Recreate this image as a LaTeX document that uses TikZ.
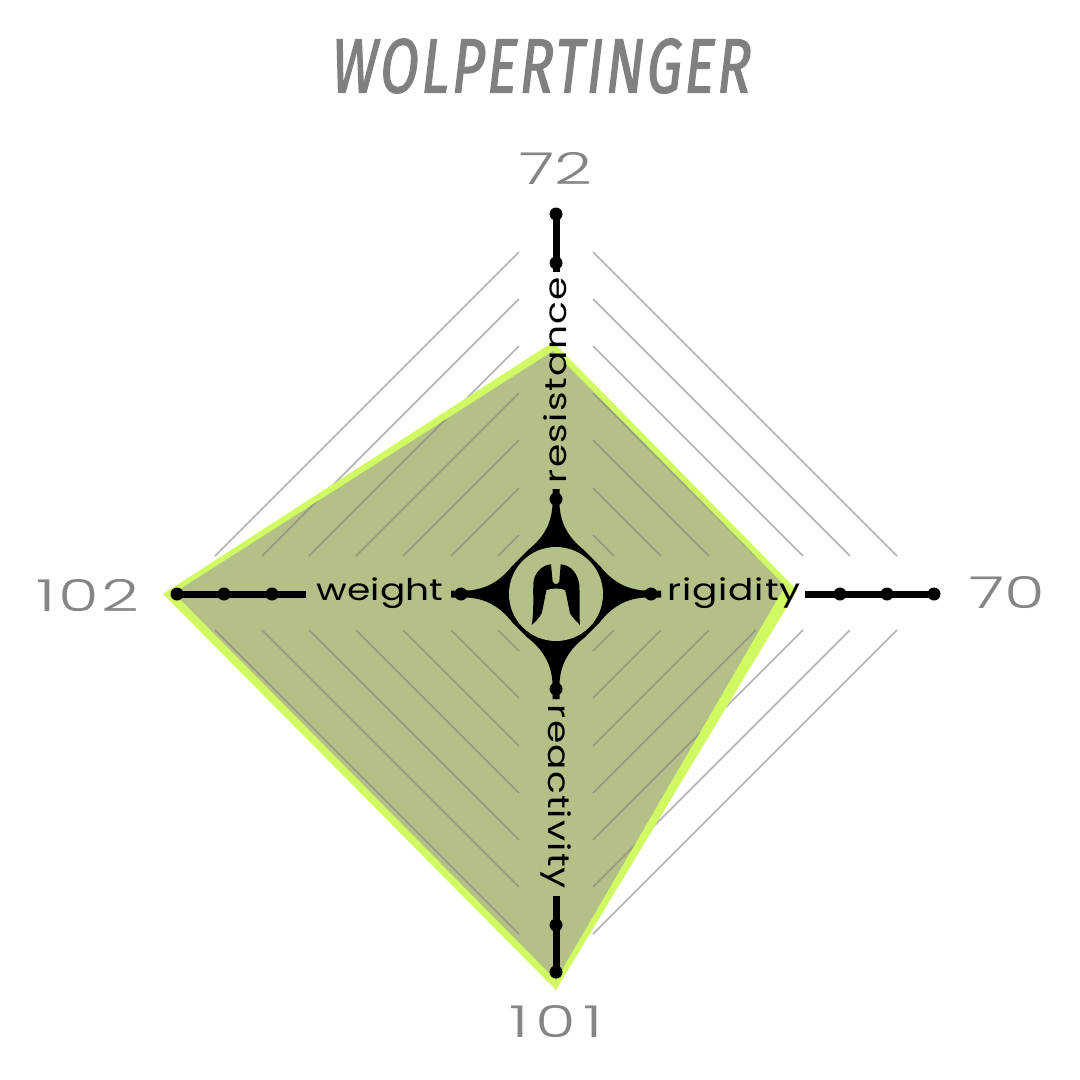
\documentclass[tikz,border=0pt]{standalone}
\usepackage{fontspec}
\newfontfamily\titlefont[FakeStretch=0.72,FakeSlant=0.12,FakeBold=1.6,LetterSpace=3.8]{Fira Sans}
\newfontfamily\numfont[FakeStretch=1.5]{Poppins Light}
\newfontfamily\axisfont[FakeStretch=1.25]{Poppins}
\definecolor{limeedge}{HTML}{D1F962}
\definecolor{olivefill}{HTML}{B3C088}
\definecolor{gridout}{HTML}{B2B2B2}
\definecolor{gridin}{HTML}{939A82}
\definecolor{numgray}{HTML}{858585}
\definecolor{titlegray}{HTML}{808080}
\tikzset{
  numlabel/.style={font=\numfont\fontsize{44}{44}\selectfont,text=numgray,inner sep=0pt},
  axislabel/.style={font=\axisfont\fontsize{30}{30}\selectfont,text=black,inner sep=0pt},
  titlelabel/.style={font=\titlefont\fontsize{77}{77}\selectfont,text=titlegray,inner sep=0pt},
  spoke/.style={line width=7pt,black},
  tickdot/.style={circle,fill=black,minimum size=13pt,inner sep=0pt},
}
\newcommand{\gridset}[1]{%
  \foreach \R in {95,142,190,237,284,331,378}{
    \pgfmathsetmacro{\La}{\R-37}
    \draw[#1,line width=1.5pt] (556+37,593-\La) -- (556+\La,593-37);
    \draw[#1,line width=1.5pt] (556-37,593-\La) -- (556-\La,593-37);
    \draw[#1,line width=1.5pt] (556+37,593+\La) -- (556+\La,593+37);
    \draw[#1,line width=1.5pt] (556-37,593+\La) -- (556-\La,593+37);
  }}
\begin{document}
\begin{tikzpicture}[x=1pt,y=-1pt]
\useasboundingbox (0,0) rectangle (1080,1080);
\fill[white] (0,0) rectangle (1080,1080);
\gridset{gridout}
% data polygon
\fill[limeedge] (163,594) -- (553,342) -- (797,590) -- (556,990) -- cycle;
\fill[olivefill] (174,593) -- (553,351) -- (785,586) -- (556,980) -- cycle;
\begin{scope}
  \clip (174,593) -- (553,351) -- (785,586) -- (556,980) -- cycle;
  \gridset{gridin}
\end{scope}
% title and numbers
\node[titlelabel] (title) at (539,66) {WOLPERTINGER};
\node[numlabel] (ntop) at (556,168) {72};
\node[numlabel] (nright) at (1007,593) {70};
\node[numlabel] (nbottom) at (556,1022) {\addfontfeature{LetterSpace=16}101};
\node[numlabel] (nleft) at (88,595) {\addfontfeature{LetterSpace=5}102};
% axis names
\node[axislabel,rotate=90] (resistance) at (555,380) {\addfontfeature{LetterSpace=4.4}resistance};
\node[axislabel] (rigidity) at (734,593) {\addfontfeature{LetterSpace=3}rigidity};
\node[axislabel,rotate=-90] (reactivity) at (556,797) {\addfontfeature{LetterSpace=4}reactivity};
\node[axislabel] (weight) at (380,593) {weight};
% spokes
\coordinate (t0) at (556,214); \coordinate (t1) at (556,263); \coordinate (te) at (556,272);
\coordinate (r0) at (934,594); \coordinate (r1) at (887,594); \coordinate (r2) at (840,594); \coordinate (re) at (805,594);
\coordinate (b0) at (556,972); \coordinate (b1) at (556,925); \coordinate (be) at (556,896);
\coordinate (l0) at (177,594); \coordinate (l1) at (224,594); \coordinate (l2) at (272,594); \coordinate (le) at (306,594);
\draw[spoke] (t0) -- (te);
\draw[spoke] (r0) -- (re);
\draw[spoke] (b0) -- (be);
\draw[spoke] (l0) -- (le);
\foreach \p in {t0,t1,r0,r1,r2,b0,b1,l0,l1,l2}{\node[tickdot] at (\p) {};}
% central emblem
\begin{scope}[shift={(556,594)}]
  \foreach \a in {0,90,180,270}{
    \fill[black,rotate=\a] (-1,0) -- (-1,-105) -- (3.5,-105) -- (3.5,-90)
      .. controls (4,-74) and (10,-58) .. (28,-44)
      .. controls (33,-39) and (39,-33) .. (44,-28)
      .. controls (58,-10) and (74,-4) .. (90,-3.5)
      -- (105,-3.5) -- (105,1) -- (0,1) -- cycle;
  }
  \node[tickdot] at (0,-95) {};
  \node[tickdot] at (95,0) {};
  \node[tickdot] at (0,95) {};
  \node[tickdot] at (-95,0) {};
  \fill[olivefill] (0,0) circle (47);
\end{scope}
\fill[black] (551,564.3) .. controls (541,565) and (534,574) .. (533.3,583.3)
  .. controls (533,600) and (534,612) .. (531.7,625)
  .. controls (536,621) and (539,618) .. (541.7,613.3)
  .. controls (544,603) and (545,597) .. (546.5,590)
  .. controls (551,588) and (561,588) .. (565,590)
  .. controls (567,597) and (568,604) .. (570,613.3)
  .. controls (573,618) and (576,621) .. (580,625)
  .. controls (579,612) and (580,598) .. (579.3,585)
  .. controls (578,574) and (571,565) .. (560.7,564.3)
  -- (559.3,581.7) .. controls (557,585) and (555,585) .. (552.7,581.7) -- cycle;
\end{tikzpicture}
\end{document}
